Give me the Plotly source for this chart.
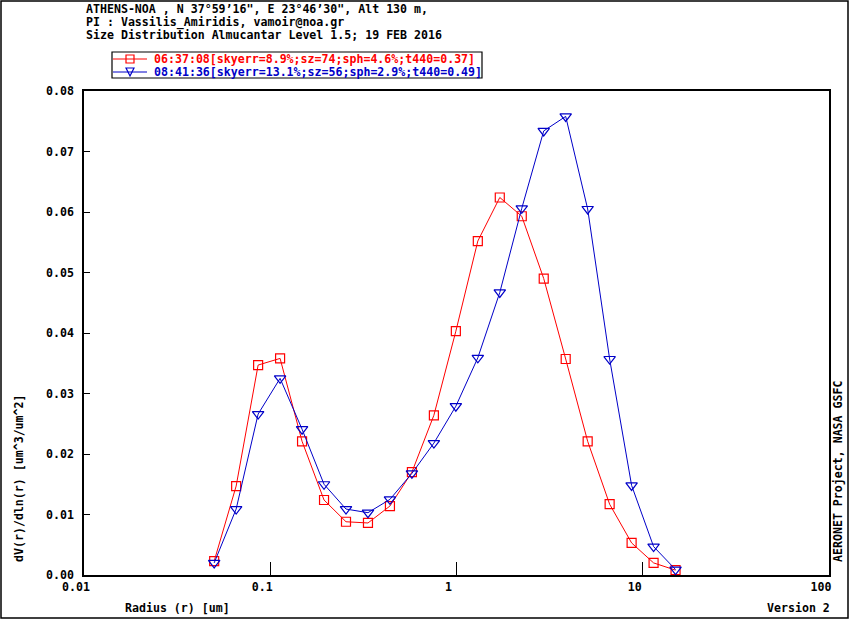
import plotly.graph_objects as go

# AERONET radius bins (um)
radius = [0.050000, 0.065604, 0.086077, 0.112939, 0.148184, 0.194429,
          0.255105, 0.334716, 0.439173, 0.576227, 0.756052, 0.991996,
          1.301571, 1.707757, 2.240702, 2.939966, 3.857452, 5.061260,
          6.640745, 8.713145, 11.432287, 15.000000]

# dV(r)/dln(r)
dv_0637 = [0.0023, 0.0147, 0.0347, 0.0358, 0.0221, 0.0124, 0.0088, 0.0086,
           0.0114, 0.0170, 0.0264, 0.0403, 0.0552, 0.0624, 0.0593, 0.0490,
           0.0357, 0.0221, 0.0117, 0.0053, 0.0020, 0.0008]
dv_0841 = [0.0020, 0.0109, 0.0266, 0.0325, 0.0241, 0.0150, 0.0109, 0.0103,
           0.0125, 0.0168, 0.0218, 0.0279, 0.0359, 0.0467, 0.0606, 0.0734,
           0.0758, 0.0605, 0.0357, 0.0148, 0.0047, 0.0009]

name_0637 = "06:37:08[skyerr=8.9%;sz=74;sph=4.6%;t440=0.37]"
name_0841 = "08:41:36[skyerr=13.1%;sz=56;sph=2.9%;t440=0.49]"

title_lines = [
    "ATHENS-NOA , N 37°59’16\", E 23°46’30\", Alt 130 m,",
    "PI : Vassilis_Amiridis, vamoir@noa.gr",
    "Size Distribution Almucantar Level 1.5; 19 FEB 2016",
]

x_ticks = [0.01, 0.1, 1, 10, 100]
x_ticktext = ["0.01", "0.1", "1", "10", "100"]

RED = "#ff0000"
BLUE = "#0000c8"
FONT = dict(family="DejaVu Sans Mono", size=11.6, color="black", weight="bold")

# plot area in pixels (for placing the decorations)
L, R, T, B = 84, 829, 91, 575
W, H = R - L, B - T


def px(x):
    return (x - L) / W


def py(y):
    return (B - y) / H


fig = go.Figure()

fig.add_trace(go.Scatter(
    x=radius, y=dv_0637, mode="lines+markers", name=name_0637,
    line=dict(color=RED, width=1),
    marker=dict(symbol="square-open", size=9, color=RED, line=dict(width=1.2)),
))
fig.add_trace(go.Scatter(
    x=radius, y=dv_0841, mode="lines+markers", name=name_0841,
    line=dict(color=BLUE, width=1),
    marker=dict(symbol="triangle-down-open", size=10, color=BLUE, line=dict(width=1.2)),
))

annotations = []
for i, line in enumerate(title_lines):
    annotations.append(dict(
        text=line, xref="paper", yref="paper", x=0, y=py(9 + 13 * i),
        xanchor="left", yanchor="middle", showarrow=False, font=FONT,
    ))

# axis titles and side notes
annotations += [
    dict(text="Radius (r) [um]", xref="paper", yref="paper", x=px(123), y=py(608),
         xanchor="left", yanchor="middle", showarrow=False, font=FONT),
    dict(text="Version 2", xref="paper", yref="paper", x=px(832), y=py(608),
         xanchor="right", yanchor="middle", showarrow=False, font=FONT),
    dict(text="dV(r)/dln(r) [um^3/um^2]", xref="paper", yref="paper", x=px(19), y=py(564),
         xanchor="center", yanchor="bottom", textangle=-90, showarrow=False, font=FONT),
    dict(text="AERONET Project, NASA GSFC", xref="paper", yref="paper", x=px(838), y=py(564),
         xanchor="center", yanchor="bottom", textangle=-90, showarrow=False, font=FONT),
]

# hand-drawn legend
shapes = [
    dict(type="rect", xref="paper", yref="paper", x0=px(112), x1=px(482),
         y0=py(78), y1=py(52), line=dict(color="black", width=1.2)),
    dict(type="rect", xref="paper", yref="paper", x0=px(1), x1=px(848),
         y0=py(618), y1=py(1), line=dict(color="black", width=1.5)),
]
for row_y, color, sym in [(59, RED, "square"), (72, BLUE, "tri")]:
    shapes.append(dict(type="line", xref="paper", yref="paper", x0=px(113), x1=px(147),
                       y0=py(row_y), y1=py(row_y), line=dict(color=color, width=1)))
    if sym == "square":
        shapes.append(dict(type="rect", xref="paper", yref="paper", x0=px(126), x1=px(134),
                           y0=py(row_y + 4), y1=py(row_y - 4), line=dict(color=color, width=1.2)))
    else:
        path = "M {a},{b} L {c},{b} L {d},{e} Z".format(
            a=px(126), c=px(134), d=px(130), b=py(row_y - 4), e=py(row_y + 4))
        shapes.append(dict(type="path", xref="paper", yref="paper", path=path,
                           line=dict(color=color, width=1.2)))
    text = name_0637 if sym == "square" else name_0841
    annotations.append(dict(text=text, xref="paper", yref="paper", x=px(152), y=py(row_y),
                            xanchor="left", yanchor="middle", showarrow=False,
                            font=dict(FONT, color=color)))

fig.update_layout(
    width=850, height=620,
    margin=dict(l=L, r=850 - R, t=T, b=620 - B),
    paper_bgcolor="white", plot_bgcolor="white",
    showlegend=False,
    font=FONT,
    annotations=annotations,
    shapes=shapes,
)

fig.update_xaxes(
    type="log", range=[-2, 2], tickvals=x_ticks, ticktext=x_ticktext,
    ticks="inside", ticklen=13, tickwidth=1, tickcolor="black",
    showline=True, linecolor="black", linewidth=1.5, mirror=True,
    showgrid=False, zeroline=False, tickfont=FONT, ticklabelshift=-8,
)
fig.update_yaxes(
    range=[0, 0.08], dtick=0.01, tickformat=".2f",
    ticks="inside", ticklen=6, tickwidth=1, tickcolor="black",
    showline=True, linecolor="black", linewidth=1.5, mirror=True,
    showgrid=False, zeroline=False, tickfont=FONT, ticklabelstandoff=6,
)

# page body has a default margin; drop it so the figure fills the window
fig.write_html("out.html", config={"displayModeBar": False},
               post_script="document.body.style.margin='0';")
